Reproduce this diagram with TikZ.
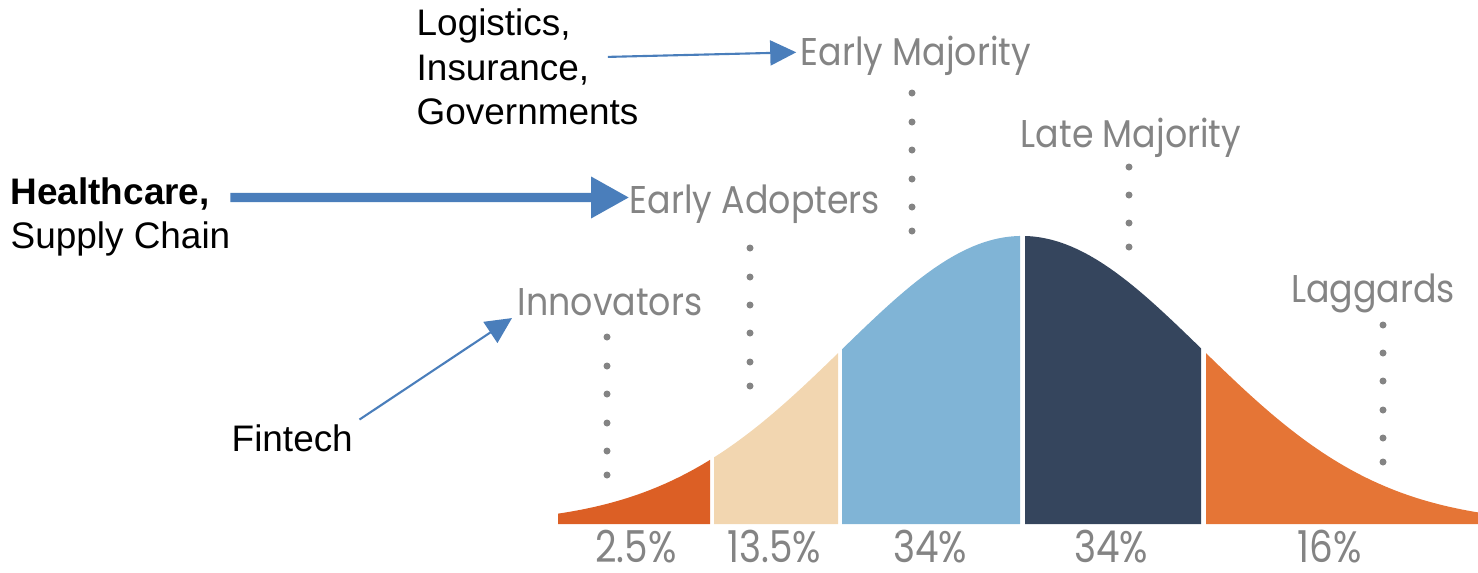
\documentclass[tikz,border=0pt]{standalone}
\usepackage{fontspec}
\setmainfont{Liberation Sans}
\newfontfamily\gothic[FakeStretch=0.9]{Poppins}
\newfontfamily\gothicnum[FakeStretch=0.85]{Poppins}
\usepackage{tikz}
\usetikzlibrary{arrows.meta}

\definecolor{innovcol}{HTML}{DC5F25}
\definecolor{adoptcol}{HTML}{F2D6B0}
\definecolor{emajcol}{HTML}{80B4D6}
\definecolor{lmajcol}{HTML}{35455D}
\definecolor{laggcol}{HTML}{E57536}
\definecolor{labelgrey}{HTML}{848484}
\definecolor{arrowblue}{HTML}{4A7EBB}

\tikzset{
  phase/.style={font=\gothic\fontsize{11}{13}\selectfont, text=labelgrey, inner sep=0pt, anchor=base},
  share/.style={font=\gothicnum\fontsize{12.5}{14}\selectfont, text=labelgrey, inner sep=0pt, anchor=base},
  sector/.style={font=\fontsize{10.5}{12}\selectfont, inner sep=0pt, anchor=base west},
  thinarrow/.style={draw=arrowblue, line width=0.6pt, -{Triangle[length=0.26cm,width=0.25cm]}},
  bigarrow/.style={draw=arrowblue, line width=2.6pt, -{Triangle[length=0.38cm,width=0.39cm]}}
}

\begin{document}
\begin{tikzpicture}[x=0.01cm, y=-0.01cm,
    declare function={bell(\t)=524-288*exp(-((\t-1022)/180)^2/2);}]
    \useasboundingbox (0,0) rectangle (1478,572);

    % curve segments
    \foreach \from/\to/\col in {558/710/innovcol, 714/838/adoptcol, 842/1020/emajcol,
                                1025/1201/lmajcol, 1206/1478/laggcol}
        \fill[\col] (\from,524) -- plot[domain=\from:\to, samples=50] (\x,{bell(\x)}) -- (\to,524) -- cycle;

    % dotted guides
    \foreach \y in {337,366,394,423,451,475} \fill[labelgrey] (607,\y) circle[radius=3.5];
    \foreach \y in {248,277,305,333,362,386} \fill[labelgrey] (750,\y) circle[radius=3.5];
    \foreach \y in {93,122,150,179,207,231} \fill[labelgrey] (912,\y) circle[radius=3.5];
    \foreach \y in {167,195,223,247} \fill[labelgrey] (1129,\y) circle[radius=3.5];
    \foreach \y in {325,353,381,410,438,462} \fill[labelgrey] (1383,\y) circle[radius=3.5];

    % phase labels
    \node[phase] (earlymaj) at (916,65) {Early Majority};
    \node[phase] (adopters) at (755,213) {Early Adopters};
    \node[phase] (innov) at (610,315) {Innovators};
    \node[phase] (latemaj) at (1131,147) {Late Majority};
    \node[phase] (laggards) at (1373,302) {Laggards};

    % shares
    \node[share] (p1) at (636,562) {2.5\%};
    \node[share] (p2) at (774,562) {13.5\%};
    \node[share] (p3) at (930,562) {34\%};
    \node[share] (p4) at (1111,562) {34\%};
    \node[share] (p5) at (1330,562) {16\%};

    % sectors
    \node[sector] (logis) at (416,35) {Logistics,};
    \node[sector] (insur) at (416,80) {Insurance,};
    \node[sector] (govern) at (416,124) {Governments};
    \node[sector, font=\fontsize{10.5}{12}\selectfont\bfseries] (health) at (10,204) {Healthcare,};
    \node[sector] (supply) at (10,248) {Supply Chain};
    \node[sector] (fintech) at (231,451) {Fintech};

    \draw[thinarrow] ([shift={(18,3)}]insur.north east) -- ([shift={(-4,-3)}]earlymaj.west);
    \draw[bigarrow] ([shift={(20,4)}]health.east) -- ([yshift=-0.04cm]health.east -| adopters.west);
    \draw[thinarrow] ([shift={(6,-4)}]fintech.north east) -- ([shift={(-5,2)}]innov.south west);
\end{tikzpicture}
\end{document}
